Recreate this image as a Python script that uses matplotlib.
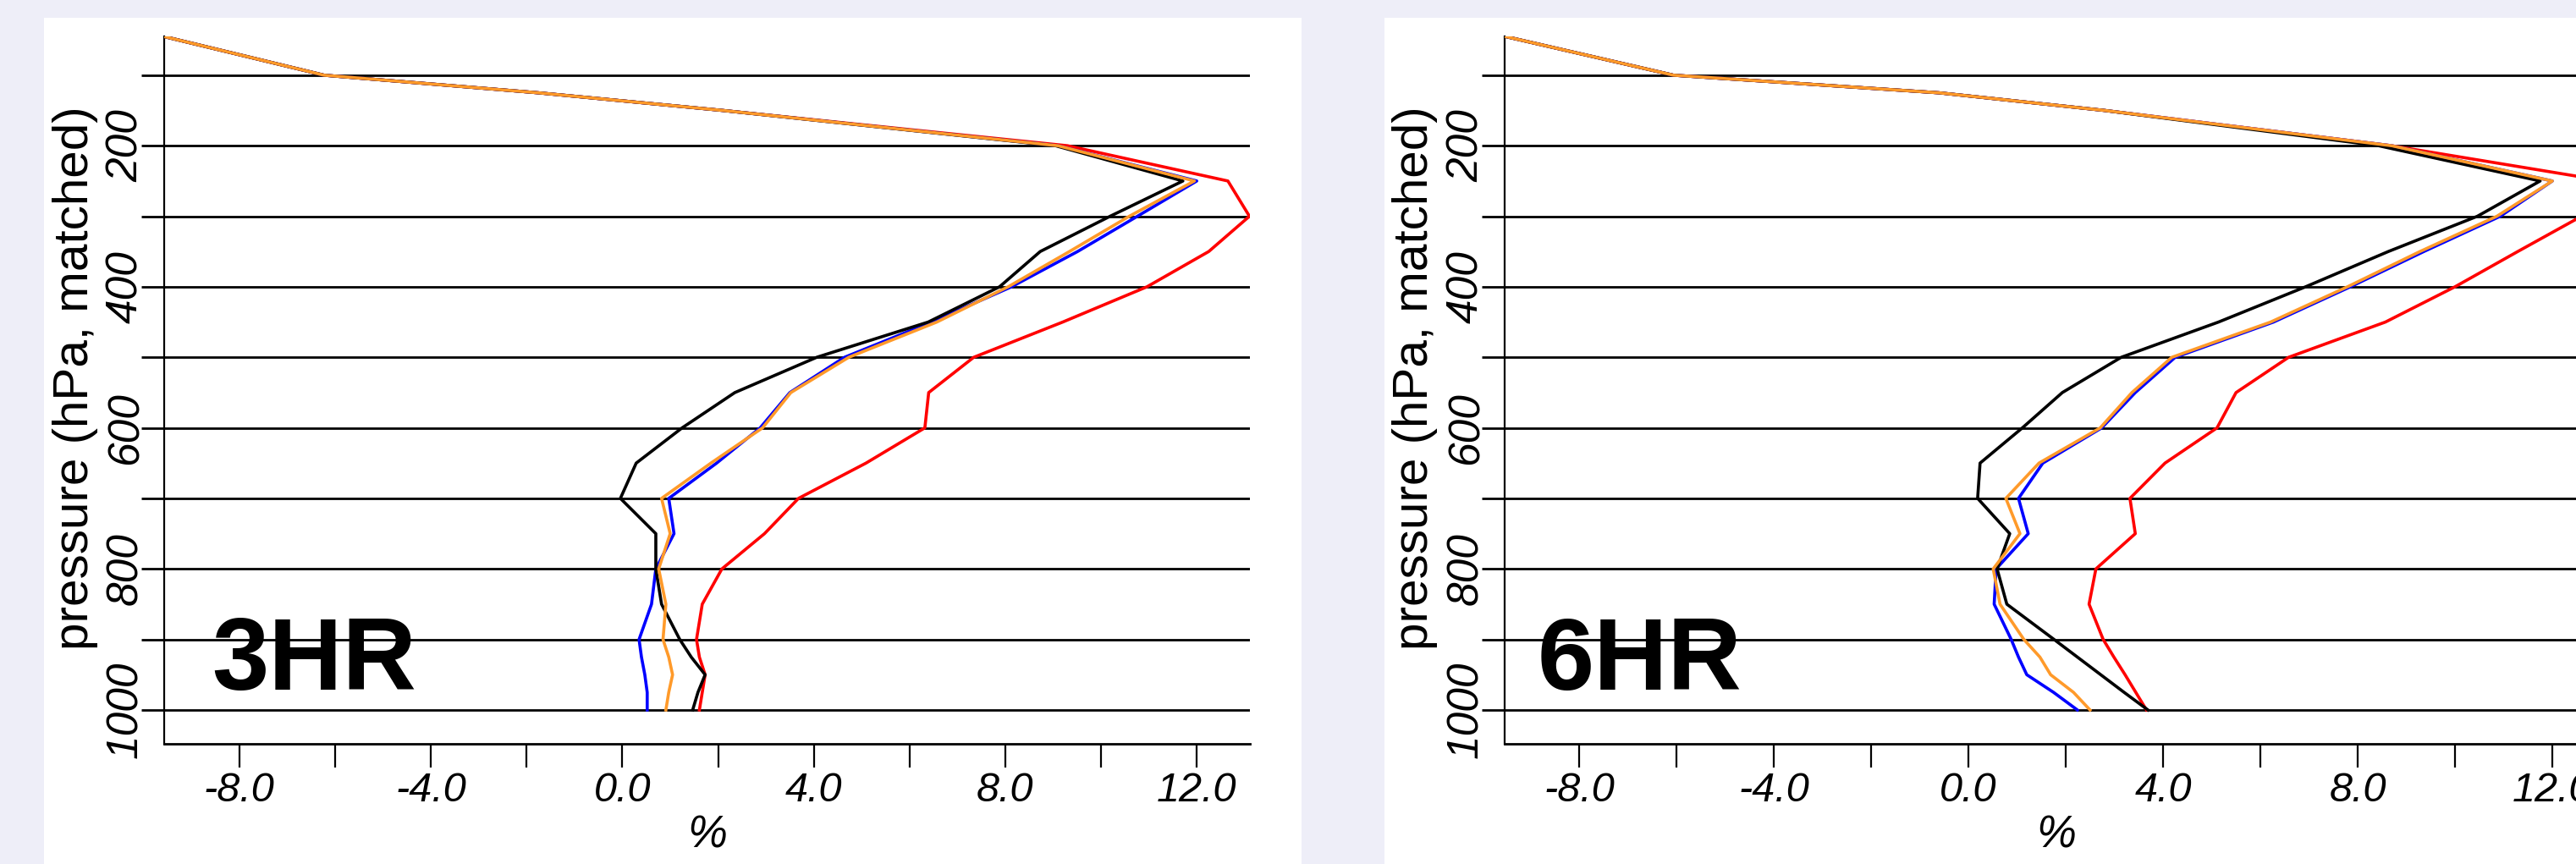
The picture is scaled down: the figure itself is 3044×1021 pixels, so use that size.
import matplotlib
matplotlib.use("Agg")
import matplotlib.pyplot as plt
from matplotlib.patches import Rectangle

plt.rcParams["font.family"] = ["Liberation Sans", "DejaVu Sans"]
plt.rcParams["axes.unicode_minus"] = False

W, H = 3044, 1021
BG = "#EEEEF8"
COLORS = {"black": "black", "blue": "#0000FF", "orange": "#FF9A2A", "red": "#FF0000"}

# pressure levels (hPa); top level sits above the plotted range and gets clipped
LEVELS = [30, 100, 125, 150, 200, 250, 300, 350, 400, 450, 500, 550, 600,
          650, 700, 750, 800, 850, 900, 925, 950, 975, 1000]

# 3HR panel (%)
BLACK_3HR = [-10.5, -6.23, -1.75, 2.1, 9.05, 11.71, 10.19, 8.73, 7.88, 6.39, 4.06, 2.35, 1.25,
             0.29, -0.04, 0.70, 0.70, 0.82, 1.2, 1.44, 1.73, 1.58, 1.47]
BLUE_3HR = [-10.5, -6.23, -1.75, 2.1, 9.1, 12.0, 10.76, 9.51, 8.13, 6.46, 4.64, 3.5, 2.88,
            1.97, 0.97, 1.08, 0.70, 0.61, 0.35, 0.40, 0.47, 0.52, 0.52]
ORANGE_3HR = [-10.5, -6.23, -1.75, 2.1, 9.1, 11.95, 10.59, 9.34, 8.06, 6.57, 4.73, 3.52, 2.93,
              1.85, 0.82, 1.0, 0.76, 0.91, 0.85, 0.97, 1.05, 0.97, 0.91]
RED_3HR = [-10.5, -6.23, -1.75, 2.1, 9.3, 12.65, 13.1, 12.25, 10.96, 9.2, 7.34, 6.4, 6.32,
           5.09, 3.68, 2.97, 2.08, 1.67, 1.55, 1.61, 1.73, 1.67, 1.61]

# 6HR panel (%)
BLACK_6HR = [-10.47, -6.06, -0.6, 2.8, 8.43, 11.75, 10.46, 8.63, 6.93, 5.14, 3.14, 1.93, 1.11,
             0.24, 0.19, 0.85, 0.59, 0.79, 1.76, 2.24, 2.72, 3.2, 3.69]
BLUE_6HR = [-10.47, -6.06, -0.6, 2.8, 8.7, 12.0, 10.93, 9.36, 7.85, 6.27, 4.25, 3.43, 2.74,
            1.53, 1.03, 1.23, 0.57, 0.53, 0.88, 1.03, 1.2, 1.75, 2.24]
ORANGE_6HR = [-10.47, -6.06, -0.6, 2.8, 8.7, 12.0, 10.86, 9.28, 7.79, 6.21, 4.18, 3.36, 2.71,
              1.45, 0.77, 1.06, 0.51, 0.65, 1.14, 1.47, 1.69, 2.16, 2.5]
RED_6HR = [-10.47, -6.06, -0.6, 2.8, 8.7, 13.1, 12.6, 11.29, 10.0, 8.57, 6.58, 5.5, 5.11,
           4.04, 3.32, 3.43, 2.62, 2.48, 2.77, 2.99, 3.22, 3.44, 3.66]

X_MAJOR = [-8, -4, 0, 4, 8, 12]
X_MINOR = [-6, -2, 2, 6, 10]
Y_MAJOR = [200, 400, 600, 800, 1000]
Y_MINOR = [100, 300, 500, 700, 900]


def px_rect(left, top, right, bottom):
    return [left / W, 1 - bottom / H, (right - left) / W, (bottom - top) / H]


def draw_panel(fig, rect, xlim, series, tag, tag_x, ylabel_x):
    ax = fig.add_axes(rect)
    ax.set_facecolor("none")
    for name in ["red", "blue", "black", "orange"]:
        ax.plot(series[name], LEVELS, color=COLORS[name], lw=2.6, zorder=3)
    ax.set_xlim(*xlim)
    ax.set_ylim(1048, 45)

    for side in ["top", "right"]:
        ax.spines[side].set_visible(False)
    ax.spines["left"].set_linewidth(1.6)
    ax.spines["bottom"].set_linewidth(2.0)

    ax.set_xticks(X_MAJOR)
    ax.set_xticks(X_MINOR, minor=True)
    ax.set_xticklabels([f"{v:.1f}" for v in X_MAJOR], fontstyle="italic", fontsize=35)
    ax.tick_params(axis="x", which="both", direction="out", length=20, width=1.6, pad=4)

    ax.set_yticks(Y_MAJOR)
    ax.set_yticks(Y_MINOR, minor=True)
    ax.set_yticklabels([str(v) for v in Y_MAJOR], fontstyle="italic", fontsize=37,
                       rotation=90, va="center", ha="center")
    ax.tick_params(axis="y", which="both", direction="out", length=19.4, width=2.0, pad=13)
    ax.grid(axis="y", which="both", color="black", lw=2.0, zorder=1)

    ax.text(0.5, -0.13, "%", transform=ax.transAxes, ha="center", va="center",
            fontsize=38, fontstyle="italic")
    ax.text(tag_x, 0.0766, tag, transform=ax.transAxes, ha="left", va="baseline",
            fontsize=87, fontweight="bold", zorder=4)
    fig.text(ylabel_x / W, 1 - 447 / H, "pressure (hPa, matched)", rotation=90,
             ha="center", va="center", fontsize=42)
    return ax


def main():
    fig = plt.figure(figsize=(W / 100, H / 100), dpi=100, facecolor=BG)
    fig.add_artist(Rectangle((52 / W, 0), (1538 - 52) / W, 1 - 21 / H,
                             transform=fig.transFigure, facecolor="white",
                             edgecolor="none", zorder=-1))
    fig.add_artist(Rectangle((1636 / W, 0), (W - 1636) / W, 1 - 21 / H,
                             transform=fig.transFigure, facecolor="white",
                             edgecolor="none", zorder=-1))

    s3 = {"black": BLACK_3HR, "blue": BLUE_3HR, "orange": ORANGE_3HR, "red": RED_3HR}
    s6 = {"black": BLACK_6HR, "blue": BLUE_6HR, "orange": ORANGE_6HR, "red": RED_6HR}

    draw_panel(fig, px_rect(194, 43, 1477, 879), (-9.57, 13.11), s3, "3HR", 0.0436, 89)
    draw_panel(fig, px_rect(1778, 43, 3081, 879), (-9.53, 13.13), s6, "6HR", 0.030, 1672)

    fig.savefig("out.png", dpi=100, facecolor=fig.get_facecolor())
    plt.close(fig)


if __name__ == "__main__":
    main()
